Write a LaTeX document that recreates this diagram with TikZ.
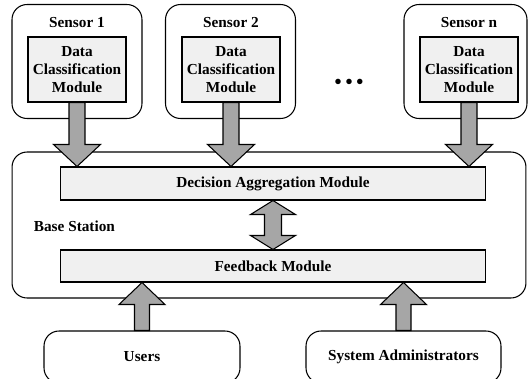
\documentclass[tikz,border=0pt]{standalone}
\usepackage{fontspec}
\setmainfont{Liberation Serif}
\usetikzlibrary{calc}

\tikzset{
  rbox/.style={draw, line width=0.6pt, rounded corners=0.3cm, inner sep=0pt},
  modbox/.style={draw, line width=0.6pt, fill=black!6, inner sep=0pt, align=center},
  txt/.style={inner sep=0pt, align=center},
  fatarrow/.style={draw, line width=0.6pt, fill=black!35, line join=miter}
}

% thick arrow from #1 to #2: shaft half width, head half width, head length
\newcommand{\fatarrow}[5]{%
  \coordinate (fa1) at #1; \coordinate (fa2) at #2;
  \coordinate (fah) at ($(fa2)!#5!(fa1)$);
  \draw[fatarrow] ($(fa1)!#3!90:(fa2)$) -- ($(fah)!#3!-90:(fa1)$) -- ($(fah)!#4!-90:(fa1)$)
    -- (fa2) -- ($(fah)!#4!90:(fa1)$) -- ($(fah)!#3!90:(fa1)$) -- ($(fa1)!#3!-90:(fa2)$) -- cycle;}

% double-headed thick arrow between #1 and #2
\newcommand{\dfatarrow}[5]{%
  \coordinate (fa1) at #1; \coordinate (fa2) at #2;
  \coordinate (fah) at ($(fa2)!#5!(fa1)$);
  \coordinate (fat) at ($(fa1)!#5!(fa2)$);
  \draw[fatarrow] (fa1) -- ($(fat)!#4!90:(fa2)$) -- ($(fat)!#3!90:(fa2)$) -- ($(fah)!#3!-90:(fa1)$)
    -- ($(fah)!#4!-90:(fa1)$) -- (fa2) -- ($(fah)!#4!90:(fa1)$) -- ($(fah)!#3!90:(fa1)$)
    -- ($(fat)!#3!-90:(fa2)$) -- ($(fat)!#4!-90:(fa2)$) -- cycle;}

\begin{document}
\begin{tikzpicture}[x=0.02cm, y=-0.02cm, font=\fontsize{8.7}{10.2}\selectfont\bfseries]

\clip (0,0) rectangle (528,379);

% sensors
\node[rbox, minimum width=2.6cm, minimum height=2.28cm] (s1) at (77,61.5) {};
\node[rbox, minimum width=2.6cm, minimum height=2.28cm] (s2) at (230.5,61.5) {};
\node[rbox, minimum width=2.46cm, minimum height=2.28cm] (sn) at (465.5,61.5) {};

\node[modbox, minimum width=1.96cm, minimum height=1.3cm] (d1) at (77,69.5) {Data\\Classification\\Module};
\node[modbox, minimum width=1.96cm, minimum height=1.3cm] (d2) at (231,69.5) {Data\\Classification\\Module};
\node[modbox, minimum width=1.96cm, minimum height=1.3cm] (dn) at (469,69.5) {Data\\Classification\\Module};

\node[txt] (l1) at ($(d1.north)+(0,-14)$) {Sensor 1};
\node[txt] (l2) at ($(d2.north)+(0,-14)$) {Sensor 2};
\node[txt] (ln) at ($(dn.north)+(0,-14)$) {Sensor n};

\node[txt, font=\fontsize{13}{13}\selectfont] (dots) at (349,84) {•\hspace{1.6pt}•\hspace{1.6pt}•};

% base station
\node[rbox, minimum width=10.28cm, minimum height=2.92cm] (bs) at (269,225) {};
\node[modbox, minimum width=8.52cm, minimum height=0.66cm] (dam) at (273,183.5) {Decision Aggregation Module};
\node[modbox, minimum width=8.52cm, minimum height=0.64cm] (fbm) at (273,266) {Feedback Module};
\node[txt, anchor=west] (bsl) at ($(bs.west)+(22,1)$) {Base Station};

% users and administrators
\node[rbox, minimum width=3.92cm, minimum height=1.04cm] (usr) at (142,357) {Users};
\node[rbox, minimum width=3.9cm, minimum height=1.04cm] (adm) at (403.5,357) {System Administrators};

% arrows
\fatarrow{(d1.south)}{(d1.south |- dam.north)}{0.16cm}{0.47cm}{0.44cm}
\fatarrow{(d2.south)}{(d2.south |- dam.north)}{0.16cm}{0.47cm}{0.44cm}
\fatarrow{(dn.south)}{(dn.south |- dam.north)}{0.16cm}{0.47cm}{0.44cm}
\fatarrow{(usr.north)}{(usr.north |- fbm.south)}{0.15cm}{0.46cm}{0.44cm}
\fatarrow{(adm.north)}{(adm.north |- fbm.south)}{0.15cm}{0.46cm}{0.44cm}
\dfatarrow{(dam.south)}{(fbm.north)}{0.17cm}{0.45cm}{0.28cm}

\end{tikzpicture}
\end{document}
